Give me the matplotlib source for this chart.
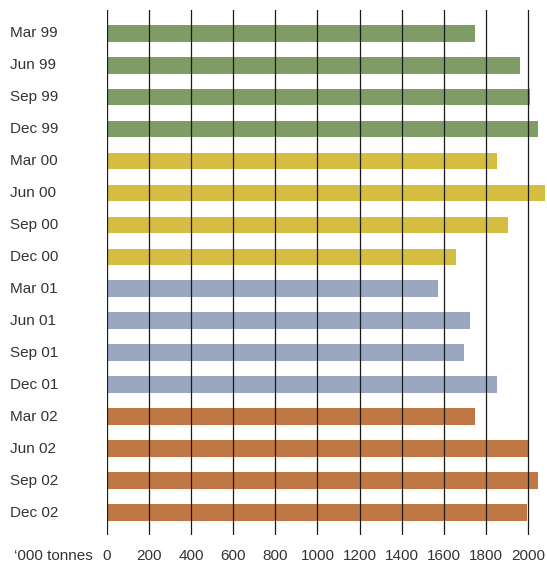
import matplotlib
matplotlib.use("Agg")
import matplotlib.pyplot as plt
import matplotlib.transforms as mtransforms

plt.rcParams['font.family'] = ['Liberation Sans', 'DejaVu Sans']

# quarterly values, '000 tonnes
quarters = ["Mar 99", "Jun 99", "Sep 99", "Dec 99",
            "Mar 00", "Jun 00", "Sep 00", "Dec 00",
            "Mar 01", "Jun 01", "Sep 01", "Dec 01",
            "Mar 02", "Jun 02", "Sep 02", "Dec 02"]
values = [1748, 1962, 2010, 2048,
          1852, 2082, 1905, 1657,
          1571, 1724, 1695, 1852,
          1748, 2001, 2048, 1995]
year_colors = ["#7f9c64", "#d4bd41", "#9ba6c0", "#bf7843"]
xticks = [0, 200, 400, 600, 800, 1000, 1200, 1400, 1600, 1800, 2000]

W, H = 547, 563
fig = plt.figure(figsize=(W / 100, H / 100), dpi=100)
ax = fig.add_axes([107 / W, (H - 535) / H, (545 - 107) / W, (535 - 10) / H])

colors = [year_colors[i // 4] for i in range(len(quarters))]
ypos = list(range(len(quarters)))
ax.barh(ypos, values, height=0.53, color=colors, zorder=2)

for t in xticks:
    ax.axvline(t, color="#1a1a1a", lw=0.9, zorder=3)

ax.set_xlim(0, 2081)
ax.set_ylim(15.69, -0.72)

for s in ax.spines.values():
    s.set_visible(False)
ax.set_yticks([])
ax.set_xticks(xticks)
ax.set_xticklabels([str(t) for t in xticks], fontsize=11, color="#333333")
ax.tick_params(axis="x", length=0, pad=10)

# category labels, left aligned at the figure edge
trans = mtransforms.blended_transform_factory(fig.transFigure, ax.transData)
for y, q in zip(ypos, quarters):
    ax.text(10 / W, y, q, transform=trans, ha="left", va="center",
            fontsize=11, color="#333333")

fig.text(93 / W, 1 - 556 / H, "\u2018000 tonnes", ha="right", va="center",
         fontsize=11, color="#333333")

fig.savefig("out.png", dpi=100)
